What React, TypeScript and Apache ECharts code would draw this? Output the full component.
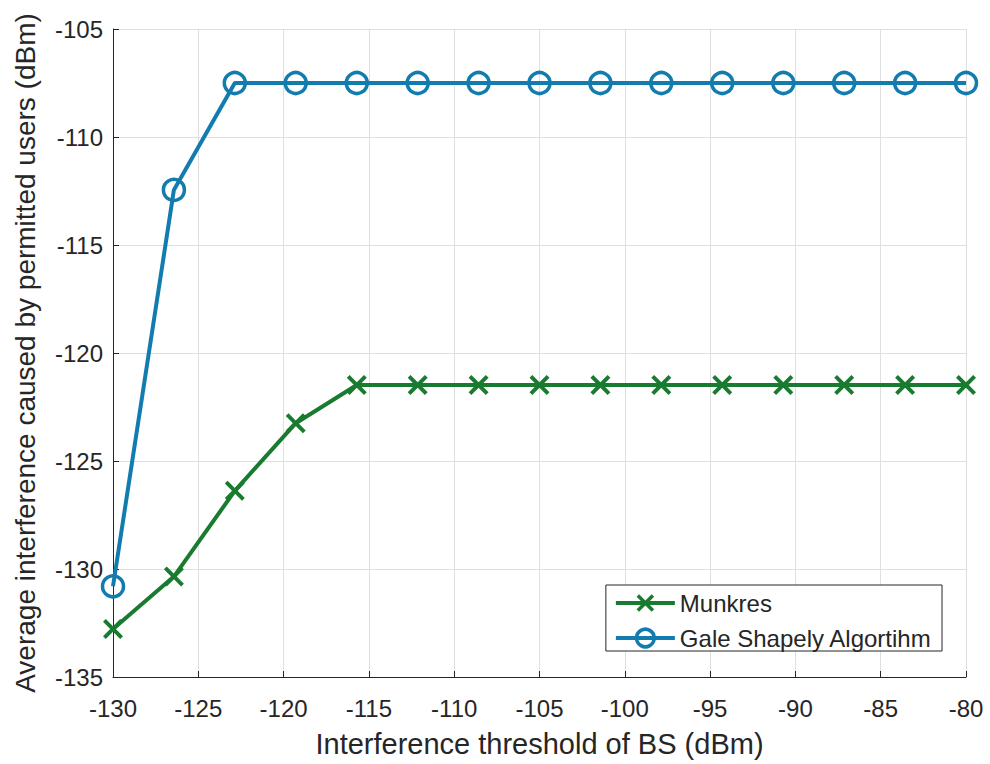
import React, { useEffect, useRef } from "react";
import * as echarts from "echarts";

const xValues = [-130, -126.43, -122.86, -119.29, -115.71, -112.14, -108.57, -105, -101.43, -97.86, -94.29, -90.71, -87.14, -83.57, -80];
const munkres = [-132.78, -130.35, -126.38, -123.25, -121.48, -121.48, -121.48, -121.48, -121.48, -121.48, -121.48, -121.48, -121.48, -121.48, -121.48];
const galeShapely = [-130.8, -112.45, -107.5, -107.5, -107.5, -107.5, -107.5, -107.5, -107.5, -107.5, -107.5, -107.5, -107.5, -107.5, -107.5];
const seriesNames = ["Munkres", "Gale Shapely Algortihm"];
const xLabel = "Interference threshold of BS (dBm)";
const yLabel = "Average interference caused by permitted users (dBm)";

const GREEN = "#187b2f";
const BLUE = "#137cae";
const TEXT = "#262626";
const FONT = "Liberation Sans, Arial, sans-serif";
const CROSS = "path://M0,1.4L1.4,0L5,3.6L8.6,0L10,1.4L6.4,5L10,8.6L8.6,10L5,6.4L1.4,10L0,8.6L3.6,5Z";

export default function App() {
  const ref = useRef<HTMLDivElement>(null);
  useEffect(() => {
    document.body.style.margin = "0";
    const chart = echarts.init(ref.current!, null, { renderer: "svg" });
    const pair = (ys: number[]) => xValues.map((x, i) => [x, ys[i]]);
    chart.setOption({
      animation: false,
      backgroundColor: "#ffffff",
      grid: { left: 113, right: 24, top: 29, bottom: 87, containLabel: false },
      legend: {
        show: true,
        orient: "vertical",
        right: 48,
        top: 585,
        itemWidth: 59,
        itemHeight: 22,
        itemGap: 11,
        padding: [6, 10, 1, 8],
        borderColor: "#262626",
        borderWidth: 1,
        backgroundColor: "#ffffff",
        textStyle: { fontFamily: FONT, fontSize: 24, color: TEXT },
        data: [
          {
            name: seriesNames[0],
            itemStyle: { color: GREEN, borderWidth: 0 },
            lineStyle: { color: GREEN, width: 4 },
          },
          {
            name: seriesNames[1],
            itemStyle: { color: "rgba(255,255,255,0)", borderColor: BLUE, borderWidth: 3.5 },
            lineStyle: { color: BLUE, width: 4 },
          },
        ],
      },
      xAxis: {
        type: "value",
        min: -130,
        max: -80,
        interval: 5,
        name: xLabel,
        nameLocation: "middle",
        nameGap: 52,
        nameTextStyle: { fontFamily: FONT, fontSize: 29, color: TEXT },
        axisLine: { show: true, onZero: false, lineStyle: { color: TEXT, width: 1 } },
        axisTick: { show: true, inside: true, length: 6, lineStyle: { color: TEXT } },
        axisLabel: { fontFamily: FONT, fontSize: 24, color: TEXT, margin: 19 },
        splitLine: { show: true, lineStyle: { color: "#dfdfdf", width: 1 } },
      },
      yAxis: {
        type: "value",
        min: -135,
        max: -105,
        interval: 5,
        name: yLabel,
        nameLocation: "middle",
        nameGap: 74,
        nameTextStyle: { fontFamily: FONT, fontSize: 28, color: TEXT },
        axisLine: { show: true, onZero: false, lineStyle: { color: TEXT, width: 1 } },
        axisTick: { show: true, inside: true, length: 6, lineStyle: { color: TEXT } },
        axisLabel: { fontFamily: FONT, fontSize: 24, color: TEXT, margin: 10 },
        splitLine: { show: true, lineStyle: { color: "#dfdfdf", width: 1 } },
      },
      series: [
        {
          name: seriesNames[0],
          type: "line",
          data: pair(munkres),
          symbol: CROSS,
          symbolSize: 20,
          showAllSymbol: true,
          lineStyle: { color: GREEN, width: 4 },
          itemStyle: { color: GREEN, borderWidth: 0 },
          z: 3,
        },
        {
          name: seriesNames[1],
          type: "line",
          data: pair(galeShapely),
          symbol: "circle",
          symbolSize: 21,
          showAllSymbol: true,
          lineStyle: { color: BLUE, width: 4 },
          itemStyle: { color: "rgba(255,255,255,0)", borderColor: BLUE, borderWidth: 3.5 },
          z: 4,
        },
      ],
    });
    return () => chart.dispose();
  }, []);
  return <div ref={ref} style={{ width: 990, height: 764 }} />;
}
